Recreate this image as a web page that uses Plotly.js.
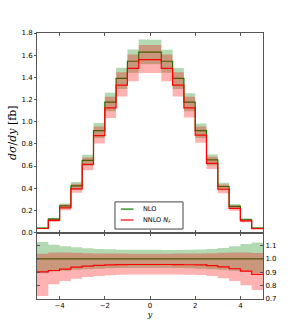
<!DOCTYPE html>
<html>
<head>
<meta charset="utf-8">
<script src="https://cdn.plot.ly/plotly-3.0.1.min.js"></script>
<style>html,body{margin:0;padding:0;background:#fff;}#plot{width:292px;height:333px;}</style>
</head>
<body>
<div id="plot"></div>
<script>
// Bin edges in rapidity y (20 bins of width 0.5)
const binEdges = [-5,-4.5,-4,-3.5,-3,-2.5,-2,-1.5,-1,-0.5,0,0.5,1,1.5,2,2.5,3,3.5,4,4.5,5];

// NLO central dσ/dy [fb]
const nloCentral = [0.04,0.12,0.24,0.42,0.65,0.92,1.177,1.39,1.545,1.628,
                    1.628,1.545,1.39,1.177,0.92,0.656,0.415,0.235,0.115,0.04];
// NLO scale band, as ratio to NLO central
const nloBandHi = [1.126,1.106,1.094,1.086,1.079,1.074,1.071,1.069,1.069,1.069,
                   1.068,1.067,1.067,1.068,1.070,1.074,1.081,1.094,1.111,1.123];
const nloBandLo = [0.895,0.905,0.912,0.918,0.923,0.927,0.930,0.932,0.933,0.933,
                   0.933,0.933,0.932,0.930,0.927,0.923,0.918,0.912,0.905,0.895];
// NNLO N_F, as ratio to NLO central
const nnloRatio = [0.903,0.913,0.923,0.938,0.946,0.951,0.955,0.957,0.958,0.958,
                   0.958,0.958,0.957,0.956,0.955,0.950,0.940,0.926,0.908,0.884];
const nnloBandHi = [1.039,1.048,1.048,1.045,1.042,1.040,1.040,1.040,1.039,1.039,
                    1.039,1.039,1.040,1.040,1.040,1.042,1.045,1.047,1.048,1.044];
const nnloBandLo = [0.723,0.810,0.834,0.852,0.864,0.872,0.877,0.882,0.884,0.884,
                    0.884,0.884,0.883,0.882,0.879,0.872,0.855,0.834,0.802,0.767];

const seriesNames = ['NLO', 'NNLO <i>N<sub>F</sub></i>'];
const mainTicks = [0,0.2,0.4,0.6,0.8,1.0,1.2,1.4,1.6,1.8];
const mainTickText = ['0.0','0.2','0.4','0.6','0.8','1.0','1.2','1.4','1.6','1.8'];
const ratioTicks = [0.7,0.8,0.9,1.0,1.1];
const ratioTickText = ['0.7','0.8','0.9','1.0','1.1'];
const xTicks = [-4,-2,0,2,4];
const xTickText = ['\u22124','\u22122','0','2','4'];

// helpers: step arrays (repeat last value for 'hv' shape)
const step = a => a.concat([a[a.length-1]]);
const mul = (a,b) => a.map((v,i)=>v*b[i]);
const ones = nloCentral.map(()=>1);

const nnloCentral = mul(nloCentral, nnloRatio);
const GREEN = '#008000', RED = '#ff0000';
const GFILL = 'rgba(0,128,0,0.3)', RFILL = 'rgba(255,0,0,0.3)';

function band(lo, hi, fill, xa, ya){
  return [
    {x:binEdges, y:step(lo), mode:'lines', line:{width:0, shape:'hv'}, showlegend:false, hoverinfo:'skip', xaxis:xa, yaxis:ya},
    {x:binEdges, y:step(hi), mode:'lines', line:{width:0, shape:'hv'}, fill:'tonexty', fillcolor:fill, showlegend:false, hoverinfo:'skip', xaxis:xa, yaxis:ya}
  ];
}
function line(v, color, name, xa, ya){
  return {x:binEdges, y:step(v), mode:'lines', name:name, showlegend:false,
          line:{color:color, width:1.2, shape:'hv'}, xaxis:xa, yaxis:ya};
}

const traces = [
  ...band(mul(nloCentral,nloBandLo), mul(nloCentral,nloBandHi), GFILL, 'x', 'y'),
  line(nloCentral, GREEN, seriesNames[0], 'x', 'y'),
  ...band(mul(nloCentral,nnloBandLo), mul(nloCentral,nnloBandHi), RFILL, 'x', 'y'),
  line(nnloCentral, RED, seriesNames[1], 'x', 'y'),
  ...band(nloBandLo, nloBandHi, GFILL, 'x2', 'y2'),
  line(ones, GREEN, seriesNames[0], 'x2', 'y2'),
  ...band(nnloBandLo, nnloBandHi, RFILL, 'x2', 'y2'),
  line(nnloRatio, RED, seriesNames[1], 'x2', 'y2')
];

// compact legend box (matplotlib-style), in paper coordinates
const legColors = [GREEN, RED];
const legRows = [0.338, 0.297];
const shapes = [
  {type:'rect', xref:'paper', yref:'paper', x0:0.345, x1:0.646, y0:0.263, y1:0.365,
   line:{color:'#444', width:1}, fillcolor:'#fff', layer:'above'}
].concat(legRows.map((yy,i)=>({type:'line', xref:'paper', yref:'paper', x0:0.371, x1:0.427, y0:yy, y1:yy,
   line:{color:legColors[i], width:1.2}, layer:'above'})));
const annotations = legRows.map((yy,i)=>({xref:'paper', yref:'paper', x:0.458, y:yy, xanchor:'left', yanchor:'middle',
   text:seriesNames[i], showarrow:false, font:{size:6.5, family:'DejaVu Sans', color:'#000'}}));

const axLine = {showline:true, linecolor:'#555', linewidth:1, showgrid:false, zeroline:false,
                ticks:'inside', ticklen:3, tickcolor:'#555', mirror:'ticks'};
const layout = {
  width:292, height:333,
  margin:{l:37, r:29, t:33, b:34},
  paper_bgcolor:'#fff', plot_bgcolor:'#fff',
  font:{family:'DejaVu Sans', size:7, color:'#000'},
  showlegend:false,
  shapes:shapes, annotations:annotations,
  xaxis:Object.assign({}, axLine, {domain:[0,1], anchor:'y', range:[-5,5], tickvals:xTicks, showticklabels:false}),
  yaxis:Object.assign({}, axLine, {domain:[0.25,1], anchor:'x', range:[0,1.8], tickvals:mainTicks, ticktext:mainTickText,
          ticks:'outside', ticklen:2, mirror:true,
          title:{text:'<i>dσ</i>/<i>dy</i> [fb]', font:{size:11, family:'DejaVu Serif'}, standoff:2}}),
  xaxis2:Object.assign({}, axLine, {domain:[0,1], anchor:'y2', matches:'x', range:[-5,5], tickvals:xTicks, ticktext:xTickText,
          title:{text:'<i>y</i>', font:{size:8, family:'DejaVu Serif'}, standoff:0}}),
  yaxis2:Object.assign({}, axLine, {domain:[0,0.25], anchor:'x2', side:'right', range:[0.7,1.197],
          tickvals:ratioTicks, ticktext:ratioTickText})
};

Plotly.newPlot('plot', traces, layout, {displayModeBar:false, staticPlot:true});
</script>
</body>
</html>
